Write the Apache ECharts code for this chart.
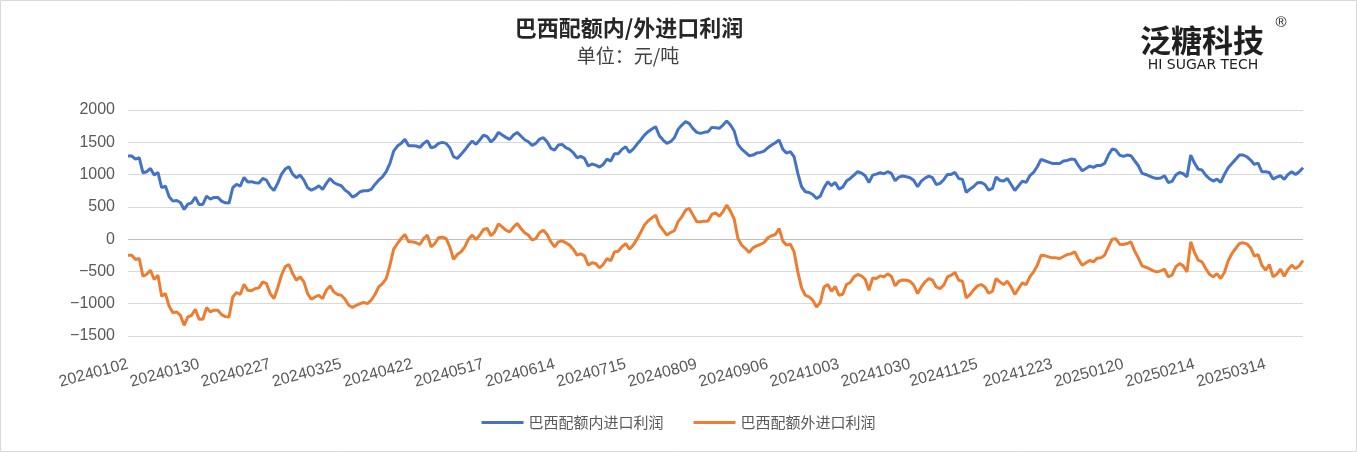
<!DOCTYPE html>
<html><head><meta charset="utf-8">
<script src="https://cdn.jsdelivr.net/npm/echarts@6/dist/echarts.min.js"></script>
<style>html,body{margin:0;padding:0;background:#fff}#c{width:1357px;height:452px}</style>
</head><body><div id="c"></div>
<script>
// Visible x tick labels (every 19th trading day)
const tickLabels = ['20240102','20240130','20240227','20240325','20240422','20240517','20240614','20240715','20240809','20240906','20241003','20241030','20241125','20241223','20250120','20250214','20250314'];
// Non-trading weekdays excluded from the date list
const holidays = ['20240115','20240219','20240329','20240527','20240619','20240704','20240902','20241225','20250217'];
const firstDate = '20240102';
const pointCount = 315;

const seriesNames = ['巴西配额内进口利润', '巴西配额外进口利润'];

const inQuotaProfit = [
  1287,1287,1240,1261,1028,1044,1095,992,1033,796,822,656,589,599,568,460,542,563,651,537,537,666,620,646,646,589,563,558,796,847,822,956,884,
  890,873,870,940,914,811,754,863,1002,1085,1121,1007,951,992,914,796,759,785,827,770,863,940,878,847,827,759,718,651,682,734,749,749,770,847,914,966,1044,1173,1364,1442,1483,1545,1447,1447,1442,1421,1483,1524,1416,1431,1483,1499,1483,1416,1276,1250,
  1313,1380,1457,1519,1468,1535,1612,1586,1504,1561,1654,1612,1576,1545,1612,1654,1597,1540,1509,1452,1483,1550,1571,1509,1406,1380,1457,1468,1416,1390,1338,1261,1281,1250,1132,1163,1147,1116,1157,1240,1209,1323,1323,1390,1431,1344,1395,1468,1535,1612,1664,1705,1742,1602,1535,1483,1509,
  1570,1700,1767,1819,1788,1711,1654,1638,1654,1664,1731,1726,1716,1767,1829,1767,1674,1468,1395,1344,1292,1302,1333,1344,1364,1416,1457,1493,1535,1390,1333,1354,1276,1018,811,734,723,692,630,666,796,889,827,878,775,806,899,940,992,1044,1023,982,878,992,1007,1028,
  1013,1044,1018,904,961,977,966,951,909,811,899,946,977,951,847,863,920,1002,1002,1033,940,925,723,775,816,873,878,847,759,785,961,909,899,940,847,754,827,899,878,982,1033,1121,1235,1214,1194,1173,1173,1173,1209,1219,1240,1235,1137,1059,1095,1132,
  1111,1142,1142,1173,1302,1395,1380,1302,1281,1302,1292,1214,1137,1018,1002,977,951,940,946,982,878,894,992,1033,1013,966,1302,1178,1085,1070,992,935,899,930,878,1002,1106,1173,1235,1302,1302,1276,1225,1157,1178,1044,1044,1033,930,961,982,925,1002,1044,1002,1044,1106
];

const outQuotaProfit = [
  -248,-248,-316,-300,-574,-543,-481,-626,-559,-884,-843,-1039,-1138,-1127,-1179,-1334,-1205,-1179,-1086,-1241,-1241,-1060,-1127,-1101,-1101,-1169,-1200,-1205,-895,-827,-858,-698,-791,
  -800,-765,-755,-662,-688,-843,-920,-755,-559,-429,-393,-533,-636,-584,-662,-843,-931,-895,-869,-920,-791,-724,-817,-858,-869,-931,-1024,-1060,-1024,-998,-982,-998,-946,-858,-740,-688,-610,-404,-155,-68,10,72,-42,-42,-57,-83,10,62,-119,-68,21,31,10,-119,-311,-238,
  -197,-119,0,62,-5,62,150,165,52,113,237,191,139,113,186,243,165,98,62,-16,10,103,139,72,-42,-119,-42,-26,-57,-93,-155,-248,-228,-259,-404,-367,-378,-445,-393,-300,-336,-197,-186,-119,-68,-155,-93,0,103,217,284,330,372,217,139,62,103,
  130,270,346,449,475,372,268,268,279,279,382,408,356,423,527,434,310,10,-93,-145,-207,-135,-104,-83,-52,21,52,72,165,-31,-93,-78,-197,-507,-755,-869,-895,-946,-1050,-982,-740,-703,-807,-734,-869,-853,-703,-672,-584,-548,-569,-621,-791,-600,-610,-569,
  -584,-538,-574,-724,-652,-631,-636,-652,-714,-843,-740,-662,-610,-636,-740,-765,-714,-584,-559,-517,-636,-652,-910,-858,-786,-724,-703,-740,-838,-807,-610,-662,-703,-652,-740,-858,-765,-678,-703,-584,-507,-404,-248,-254,-274,-290,-290,-300,-269,-238,-228,-197,-311,-404,-367,-331,
  -352,-295,-290,-248,-119,0,5,-78,-83,-68,-42,-181,-290,-414,-435,-460,-491,-507,-491,-466,-584,-559,-430,-378,-414,-507,-42,-207,-326,-352,-455,-543,-584,-533,-610,-517,-336,-223,-145,-68,-57,-73,-135,-264,-238,-404,-481,-393,-584,-543,-466,-574,-471,-404,-455,-414,-331
];

const yTicks = { min: -1500, max: 2000, interval: 500 };

function buildCategories() {
  const out = [];
  let t = Date.UTC(+firstDate.slice(0,4), +firstDate.slice(4,6) - 1, +firstDate.slice(6,8));
  while (out.length < pointCount) {
    const d = new Date(t);
    const wd = d.getUTCDay();
    const s = d.getUTCFullYear() + String(d.getUTCMonth() + 1).padStart(2, '0') + String(d.getUTCDate()).padStart(2, '0');
    if (wd !== 0 && wd !== 6 && holidays.indexOf(s) < 0) out.push(s);
    t += 86400000;
  }
  return out;
}
const categories = buildCategories();

const chart = echarts.init(document.getElementById('c'), null, { renderer: 'canvas' });
const cjk = '"Noto Sans CJK SC", sans-serif';
const latin = '"Liberation Sans", Arial, sans-serif';
const gridGrey = '#d9d9d9';

chart.setOption({
  animation: false,
  backgroundColor: '#ffffff',
  title: [
    { text: '巴西配额内/外进口利润', left: 624, top: 12, textAlign: 'center',
      textStyle: { fontFamily: cjk, fontSize: 22, fontWeight: 'bold', color: '#262626' } },
    { text: '单位：元/吨', left: 623, top: 41, textAlign: 'center',
      textStyle: { fontFamily: cjk, fontSize: 19, fontWeight: 'normal', color: '#404040' } }
  ],
  graphic: [
    { type: 'rect', shape: { x: 0.5, y: 0.5, width: 1356, height: 451 }, style: { fill: 'none', stroke: '#d9d9d9', lineWidth: 1 }, silent: true },
    { type: 'text', x: 1202, y: 40, style: { text: '泛糖科技', font: 'bold 31px ' + cjk, fill: '#1f1f1f', textAlign: 'center', textVerticalAlign: 'middle' } },
    { type: 'text', x: 1281, y: 23, style: { text: '®', font: '15px ' + latin, fill: '#1f1f1f', textAlign: 'center', textVerticalAlign: 'middle' } },
    { type: 'text', x: 1203, y: 65, style: { text: 'HI SUGAR TECH', font: '14px "DejaVu Sans", sans-serif', fill: '#1f1f1f', textAlign: 'center', textVerticalAlign: 'middle' } }
  ],
  legend: {
    data: seriesNames,
    left: 'center',
    top: 410,
    itemWidth: 42,
    itemHeight: 3,
    itemGap: 30,
    icon: 'rect',
    textStyle: { fontFamily: cjk, fontSize: 15, color: '#595959' }
  },
  grid: { left: 128, right: 54, top: 110, bottom: 116, containLabel: false, outerBoundsMode: 'none' },
  xAxis: {
    type: 'category',
    data: categories,
    boundaryGap: false,
    axisLine: { show: false, onZero: false },
    axisTick: { show: false },
    splitLine: { show: false },
    axisLabel: {
      interval: function (idx, val) { return tickLabels.indexOf(val) >= 0; },
      rotate: 15,
      margin: 28,
      fontFamily: latin,
      fontSize: 16,
      color: '#595959',
      hideOverlap: false
    }
  },
  yAxis: {
    type: 'value',
    min: yTicks.min, max: yTicks.max, interval: yTicks.interval,
    axisLine: { show: false },
    axisTick: { show: false },
    splitLine: { show: true, lineStyle: { color: [gridGrey, gridGrey, gridGrey, '#bfbfbf', gridGrey, gridGrey, gridGrey, gridGrey], width: 1 } },
    axisLabel: {
      margin: 13,
      fontFamily: latin,
      fontSize: 16,
      color: '#595959',
      formatter: function (v) { return String(v).replace('-', '\u2212'); }
    }
  },
  series: [
    { name: seriesNames[0], type: 'line', data: inQuotaProfit, symbol: 'none', showSymbol: false,
      lineStyle: { color: '#4472C4', width: 3 }, itemStyle: { color: '#4472C4' } },
    { name: seriesNames[1], type: 'line', data: outQuotaProfit, symbol: 'none', showSymbol: false,
      lineStyle: { color: '#ED7D31', width: 3 }, itemStyle: { color: '#ED7D31' } }
  ]
});
</script>
</body></html>
